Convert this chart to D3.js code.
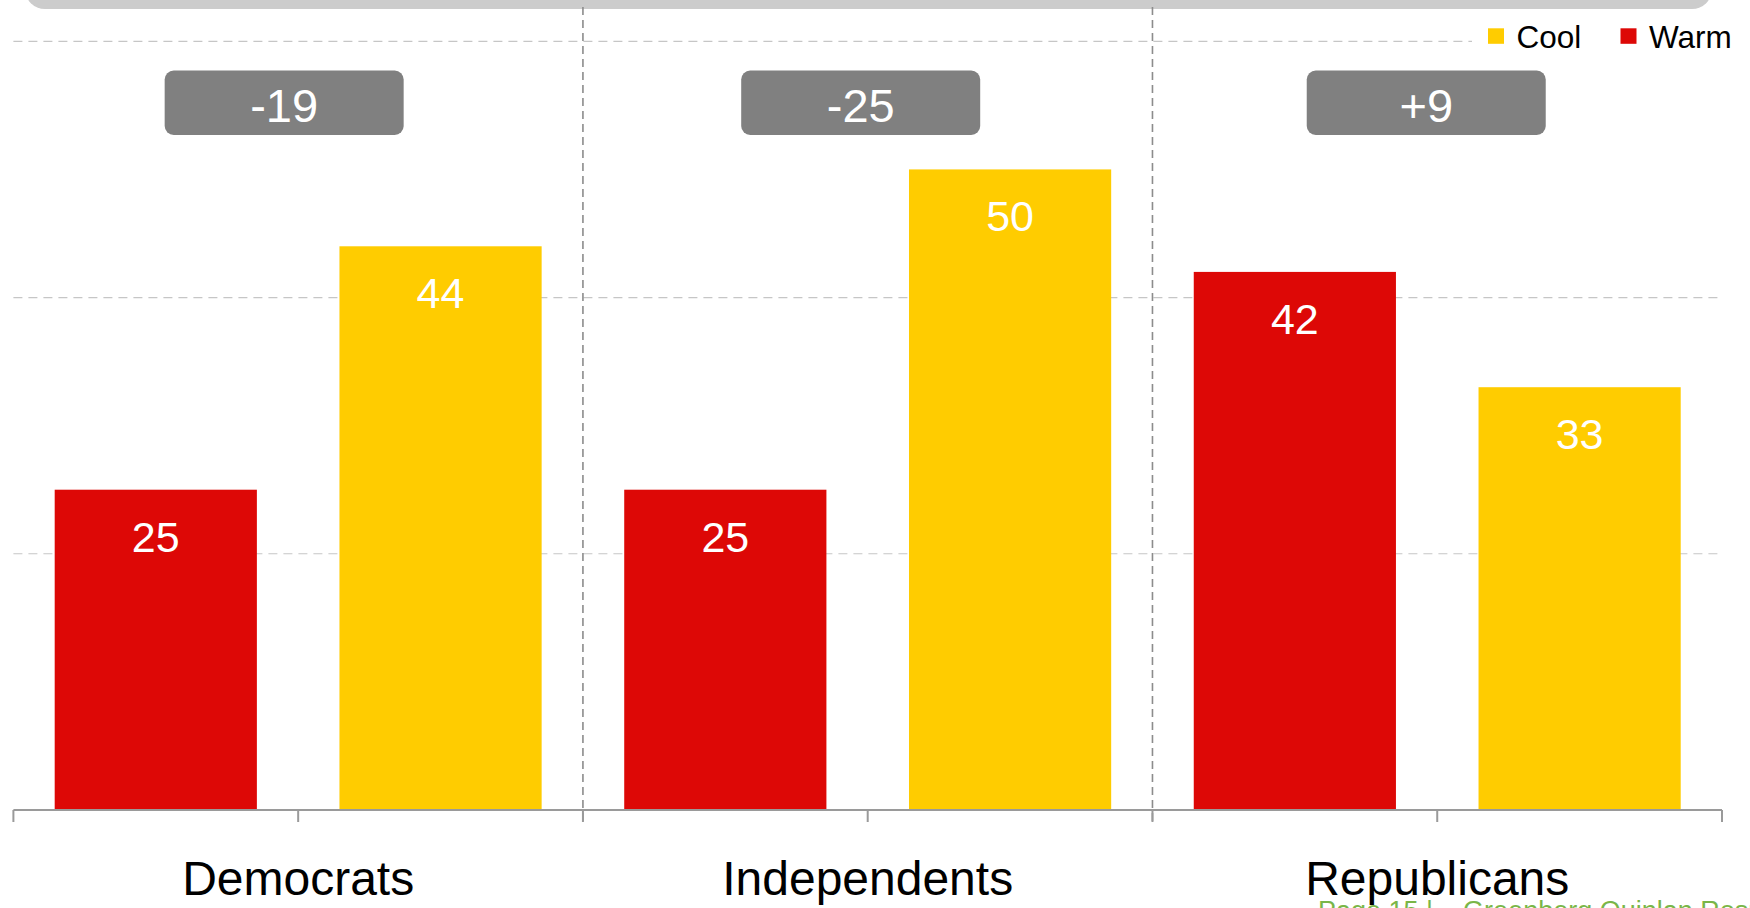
<!DOCTYPE html>
<html>
<head>
<meta charset="utf-8">
<script src="https://cdn.jsdelivr.net/npm/d3@7"></script>
<style>
  html, body { margin: 0; padding: 0; background: #fff; overflow: hidden; }
  svg { display: block; font-family: "Liberation Sans", Arial, sans-serif; }
</style>
</head>
<body>
<svg id="chart" width="1750" height="908"></svg>
<script>
// ---- data ----
const categories = ["Democrats", "Independents", "Republicans"];
const seriesNames = ["Warm", "Cool"];
const warmValues = [25, 25, 42];
const coolValues = [44, 50, 33];
const gridTicks = [20, 40, 60];
const legendItems = ["Cool", "Warm"];
const footerText = "Page 15 |    Greenberg Quinlan Rosner";

const colors = { Warm: "#DD0806", Cool: "#FFCC00" };
// layout: horizontal nudge of each difference box from its group centre
const boxNudge = [-14, -7, -11];

const rows = categories.map((c, i) => ({
  category: c,
  Warm: warmValues[i],
  Cool: coolValues[i],
  diff: warmValues[i] - coolValues[i],
  nudge: boxNudge[i]
}));

const svg = d3.select("#chart");

// ---- scales ----
const x0 = d3.scaleBand().domain(categories).range([13.4, 1722]).padding(0);
const x1 = d3.scaleBand().domain(seriesNames).range([0, x0.bandwidth()])
  .paddingInner(0.29).paddingOuter(0.145);
const y = d3.scaleLinear().domain([0, 60]).range([810, 41.3]);

// ---- top gray band ----
svg.append("rect")
  .attr("x", 25).attr("y", -40).attr("width", 1687).attr("height", 49)
  .attr("rx", 20).attr("fill", "#cccccc");

// ---- gridlines ----
svg.append("g").selectAll("line").data(gridTicks).join("line")
  .attr("x1", x0.range()[0]).attr("x2", x0.range()[1])
  .attr("y1", d => y(d)).attr("y2", d => y(d))
  .attr("stroke", "#c6c6c6").attr("stroke-width", 1.2)
  .attr("stroke-dasharray", "9,6");

// ---- vertical separators ----
const seps = categories.slice(1).map(c => x0(c));
svg.append("g").selectAll("line").data(seps).join("line")
  .attr("x1", d => d).attr("x2", d => d)
  .attr("y1", 7).attr("y2", 822)
  .attr("stroke", "#8c8c8c").attr("stroke-width", 1.6)
  .attr("stroke-dasharray", "8,5");

// ---- bars ----
const groups = svg.append("g").selectAll("g").data(rows).join("g")
  .attr("transform", d => `translate(${x0(d.category)},0)`);

groups.selectAll("rect").data(d => seriesNames.map(s => ({ s, v: d[s] }))).join("rect")
  .attr("x", d => x1(d.s))
  .attr("y", d => y(d.v))
  .attr("width", x1.bandwidth())
  .attr("height", d => y(0) - y(d.v))
  .attr("fill", d => colors[d.s]);

groups.selectAll("text.val").data(d => seriesNames.map(s => ({ s, v: d[s] }))).join("text")
  .attr("class", "val")
  .attr("x", d => x1(d.s) + x1.bandwidth() / 2)
  .attr("y", d => y(d.v) + 62)
  .attr("text-anchor", "middle")
  .attr("fill", "#ffffff")
  .attr("font-size", 43)
  .text(d => d.v);

// ---- x axis ----
const axis = svg.append("g");
axis.append("line")
  .attr("x1", x0.range()[0]).attr("x2", x0.range()[1])
  .attr("y1", y(0)).attr("y2", y(0))
  .attr("stroke", "#9a9a9a").attr("stroke-width", 2);
const tickXs = [];
categories.forEach(c => { tickXs.push(x0(c)); tickXs.push(x0(c) + x0.bandwidth() / 2); });
tickXs.push(x0.range()[1]);
axis.selectAll("line.tick").data(tickXs).join("line")
  .attr("class", "tick")
  .attr("x1", d => d).attr("x2", d => d)
  .attr("y1", y(0)).attr("y2", y(0) + 12)
  .attr("stroke", "#9a9a9a").attr("stroke-width", 2);

axis.selectAll("text").data(categories).join("text")
  .attr("x", d => x0(d) + x0.bandwidth() / 2)
  .attr("y", 895)
  .attr("text-anchor", "middle")
  .attr("fill", "#000")
  .attr("font-size", 48)
  .text(d => d);

// ---- difference boxes ----
const boxes = svg.append("g").selectAll("g").data(rows).join("g")
  .attr("transform", d => `translate(${x0(d.category) + x0.bandwidth() / 2 + d.nudge},0)`);
boxes.append("rect")
  .attr("x", -119.5).attr("y", 70.5).attr("width", 239).attr("height", 64.5)
  .attr("rx", 9).attr("fill", "#808080");
boxes.append("text")
  .attr("x", 0).attr("y", 121.5)
  .attr("text-anchor", "middle")
  .attr("fill", "#ffffff")
  .attr("font-size", 47)
  .text(d => (d.diff > 0 ? "+" : "") + d.diff);

// ---- legend ----
const legend = svg.append("g");
legend.append("rect").attr("x", 1472).attr("y", 18).attr("width", 278).attr("height", 40).attr("fill", "#fff");
const legendX = [1488, 1620.5];
legend.selectAll("rect.sw").data(legendItems).join("rect")
  .attr("class", "sw")
  .attr("x", (d, i) => legendX[i]).attr("y", 28.3)
  .attr("width", 16).attr("height", 15.5)
  .attr("fill", d => colors[d]);
legend.selectAll("text").data(legendItems).join("text")
  .attr("x", (d, i) => legendX[i] + 28.5).attr("y", 48.3)
  .attr("fill", "#000")
  .attr("font-size", 31.5)
  .text(d => d);

// ---- footer (partially cut off at the bottom edge) ----
svg.append("text")
  .attr("x", 1318).attr("y", 919.5)
  .attr("fill", "#7AB648")
  .attr("font-size", 27)
  .style("white-space", "pre")
  .text(footerText);
</script>
</body>
</html>
